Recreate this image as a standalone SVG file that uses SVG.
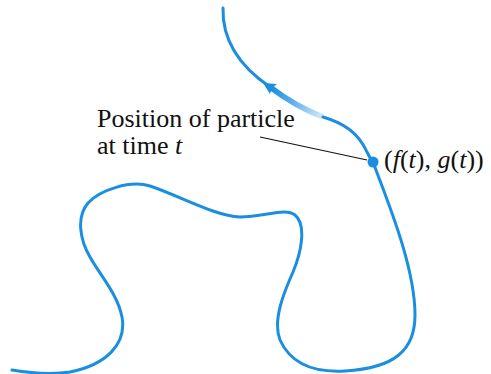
<svg xmlns="http://www.w3.org/2000/svg" width="491" height="374" viewBox="0 0 491 374">
<style>
.curve{fill:none;stroke:#1a8ee0;stroke-width:3;stroke-linecap:round;stroke-linejoin:round}
.lbl{font-family:"Liberation Serif","Times New Roman",serif;font-size:26px;fill:#111}
.it{font-style:italic}
.leader{stroke:#111;stroke-width:1.2}
</style>
<defs>
<linearGradient id="fade" gradientUnits="userSpaceOnUse" x1="323" y1="117" x2="272" y2="88">
<stop offset="0" stop-color="#d6eaf9"/>
<stop offset="0.6" stop-color="#5aaeea"/>
<stop offset="1" stop-color="#1a8ee0"/>
</linearGradient>
</defs>
<g id="edges">
<path class="curve" d="M223,8 C222,45 245,70 270,87"/>
<path d="M270,87 C287,100 305,110 323,117" fill="none" stroke="url(#fade)" stroke-width="5.5"/>
<path d="M263,83 L277,84 L272,88 L270,94 Z" fill="#1a8ee0"/>
<path class="curve" d="M323,117 C343,123 358,132 367,152 C372,162 373,162 373,162 C385,195 415,265 415,315 C415,350 395,368 345,371 C310,373 290,362 280,340 C272,320 285,290 293,272 C301,253 307,225 295,215 C285,207 265,217 240,217 C215,216 180,196 150,186 C130,180 100,190 88,203 C76,217 80,240 90,257 C100,275 118,295 122,317 C127,345 105,365 70,372 C50,375 30,373 12,370"/>
<line class="leader" x1="260" y1="137" x2="367" y2="160"/>
</g>
<g id="particle">
<circle cx="373" cy="162" r="5.5" fill="#1a8ee0"/>
<text class="lbl" x="384" y="168">(<tspan class="it">f</tspan>(<tspan class="it">t</tspan>), <tspan class="it">g</tspan>(<tspan class="it">t</tspan>))</text>
</g>
<g id="label">
<text class="lbl" x="97" y="127">Position of particle</text>
<text class="lbl" x="97" y="154">at time <tspan class="it">t</tspan></text>
</g>
</svg>
